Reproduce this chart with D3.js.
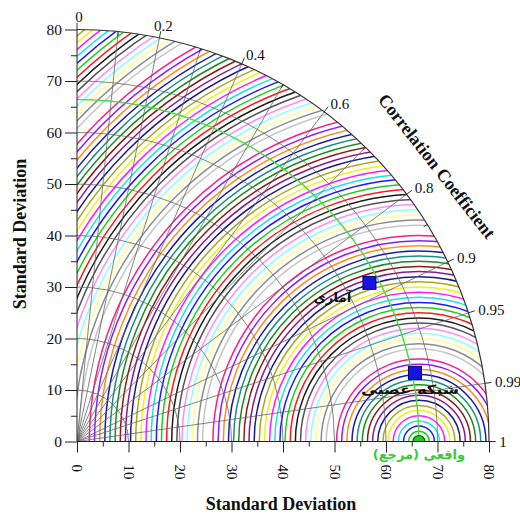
<!DOCTYPE html>
<html>
<head>
<meta charset="utf-8">
<title>Taylor diagram</title>
<script src="https://d3js.org/d3.v7.min.js"></script>
<style>
  body { margin: 0; background: #fff; }
  svg text { font-family: "Liberation Serif", "Times New Roman", serif; fill: #111; }
  .axis path, .axis line { stroke: #222; }
  .fa { font-family: "DejaVu Sans", sans-serif !important; }
</style>
</head>
<body>
<svg id="chart"></svg>
<script>
// data
var stdTicks = [0, 10, 20, 30, 40, 50, 60, 70, 80];
var stdMinor = [5, 15, 25, 35, 45, 55, 65, 75];
var stdGrid = [10, 20, 30, 40, 50, 60, 70];
var corrTicks = [0, 0.2, 0.4, 0.6, 0.8, 0.9, 0.95, 0.99, 1];
var corrMinor = [0.1, 0.3, 0.5, 0.7, 0.85];
var corrGrid = [0.1, 0.2, 0.3, 0.4, 0.5, 0.6, 0.7, 0.8, 0.9, 0.95, 0.99];
var refName = "واقعی (مرجع)";
var refStd = 66.4;
var modelNames = ["آماری", "شبکه عصبی"];
var modelStd = [64.6, 66.96];
var modelCorr = [0.879, 0.98];
var rmsLevels = d3.range(1, 105);
// Origin style colour list
var palette = ["#000000", "#ff0000", "#00cc00", "#0000ff", "#00e0e0", "#ff00ff", "#f0f000", "#a0a000",
               "#000080", "#800080", "#800000", "#008000", "#008080", "#0000a0", "#ff8000", "#8000ff",
               "#ff0080", "#ffffff", "#c0c0c0", "#808080", "#ffff80", "#80ffff", "#ff80ff", "#404040"];

var width = 520, height = 518;
var ox = 77, oy = 441.5;
var maxStd = 80;

var svg = d3.select("#chart")
    .attr("width", width)
    .attr("height", height);

var r = d3.scaleLinear().domain([0, maxStd]).range([0, 412]);
var R = r(maxStd);

function pos(s, c) {
    var a = Math.acos(c);
    return [ox + r(s) * Math.cos(a), oy - r(s) * Math.sin(a)];
}

var quad = "M" + ox + "," + oy + "L" + (ox + R) + "," + oy +
           "A" + R + "," + R + " 0 0 0 " + ox + "," + (oy - R) + "Z";

svg.append("clipPath").attr("id", "quad")
    .append("path").attr("d", quad);

var plot = svg.append("g").attr("clip-path", "url(#quad)");

// RMS contours round the reference
plot.selectAll("circle.rms")
    .data(rmsLevels)
    .enter()
    .append("circle")
    .attr("class", "rms")
    .attr("cx", ox + r(refStd))
    .attr("cy", oy)
    .attr("r", function (d) { return r(d); })
    .attr("fill", "none")
    .attr("stroke", function (d) { return palette[d % 24]; })
    .attr("stroke-width", 1.5)
    .attr("opacity", 0.9);

// std dev grid arcs
plot.selectAll("circle.sgrid")
    .data(stdGrid)
    .enter()
    .append("circle")
    .attr("class", "sgrid")
    .attr("cx", ox)
    .attr("cy", oy)
    .attr("r", function (d) { return r(d); })
    .attr("fill", "none")
    .attr("stroke", "#666")
    .attr("stroke-width", 0.8);

// correlation grid lines
plot.selectAll("line.cgrid")
    .data(corrGrid)
    .enter()
    .append("line")
    .attr("class", "cgrid")
    .attr("x1", ox).attr("y1", oy)
    .attr("x2", function (d) { return pos(maxStd, d)[0]; })
    .attr("y2", function (d) { return pos(maxStd, d)[1]; })
    .attr("stroke", "#666")
    .attr("stroke-width", 0.8);

// reference std arc
plot.append("circle")
    .attr("cx", ox).attr("cy", oy)
    .attr("r", r(refStd))
    .attr("fill", "none")
    .attr("stroke", "#44dd44")
    .attr("stroke-width", 1.4);

// reference marker
plot.append("circle")
    .attr("cx", ox + r(refStd)).attr("cy", oy)
    .attr("r", 6)
    .attr("fill", "#22cc22")
    .attr("stroke", "#006600")
    .attr("stroke-width", 1.2);

// outer arc
svg.append("path")
    .attr("d", "M" + (ox + R) + "," + oy + "A" + R + "," + R + " 0 0 0 " + ox + "," + (oy - R))
    .attr("fill", "none")
    .attr("stroke", "#333")
    .attr("stroke-width", 1.2);

// correlation ticks and labels
svg.selectAll("line.ctick")
    .data(corrTicks)
    .enter()
    .append("line")
    .attr("class", "ctick")
    .attr("x1", function (d) { return pos(maxStd, d)[0]; })
    .attr("y1", function (d) { return pos(maxStd, d)[1]; })
    .attr("x2", function (d) { return pos(maxStd + 1.3, d)[0]; })
    .attr("y2", function (d) { return pos(maxStd + 1.3, d)[1]; })
    .attr("stroke", "#333");

svg.selectAll("line.cminor")
    .data(corrMinor)
    .enter()
    .append("line")
    .attr("class", "cminor")
    .attr("x1", function (d) { return pos(maxStd - 0.8, d)[0]; })
    .attr("y1", function (d) { return pos(maxStd - 0.8, d)[1]; })
    .attr("x2", function (d) { return pos(maxStd, d)[0]; })
    .attr("y2", function (d) { return pos(maxStd, d)[1]; })
    .attr("stroke", "#333");

svg.selectAll("text.clab")
    .data(corrTicks)
    .enter()
    .append("text")
    .attr("class", "clab")
    .attr("x", function (d) {
        var p = pos(maxStd + 2, d);
        return d < 0.3 ? p[0] + 2 : p[0];
    })
    .attr("y", function (d) { return pos(maxStd + (d < 0.3 ? 2.4 : 2), d)[1]; })
    .attr("dy", "0.35em")
    .attr("text-anchor", function (d) { return d < 0.3 ? "middle" : "start"; })
    .style("font-size", "15px")
    .text(function (d) { return d; });

// y axis
var y = d3.scaleLinear().domain([0, maxStd]).range([oy, oy - R]);
svg.append("g")
    .attr("class", "axis")
    .attr("transform", "translate(" + ox + ",0)")
    .call(d3.axisLeft(y).tickValues(stdTicks).tickSize(12).tickPadding(3).tickFormat(d3.format("d")))
    .call(function (g) { g.selectAll("text").style("font-size", "15.5px").attr("fill", "#111"); g.select(".domain").attr("d", "M0," + oy + "V" + (oy - R)); });

svg.append("g")
    .attr("class", "axis")
    .attr("transform", "translate(" + ox + ",0)")
    .call(d3.axisLeft(y).tickValues(stdMinor).tickSize(6).tickFormat(""))
    .call(function (g) { g.select(".domain").remove(); });

// x axis
var x = d3.scaleLinear().domain([0, maxStd]).range([ox, ox + R]);
svg.append("g")
    .attr("class", "axis")
    .attr("transform", "translate(0," + oy + ")")
    .call(d3.axisBottom(x).tickValues(stdTicks).tickSize(11).tickFormat(d3.format("d")))
    .call(function (g) {
        g.select(".domain").attr("d", "M" + ox + ",0H" + (ox + R));
        g.selectAll("text")
            .style("font-size", "15px")
            .attr("fill", "#111")
            .attr("transform", "rotate(90)")
            .attr("x", 23)
            .attr("y", 0)
            .attr("dy", "0.35em")
            .style("text-anchor", "start");
    });

svg.append("g")
    .attr("class", "axis")
    .attr("transform", "translate(0," + oy + ")")
    .call(d3.axisBottom(x).tickValues(stdMinor).tickSize(5).tickFormat(""))
    .call(function (g) { g.select(".domain").remove(); });

// model points
svg.selectAll("rect.model")
    .data(modelNames)
    .enter()
    .append("rect")
    .attr("class", "model")
    .attr("x", function (d, i) { return pos(modelStd[i], modelCorr[i])[0] - 6.5; })
    .attr("y", function (d, i) { return pos(modelStd[i], modelCorr[i])[1] - 6.5; })
    .attr("width", 13)
    .attr("height", 13)
    .attr("fill", "#1515dd")
    .attr("stroke", "#000080");

var labelOff = [[-37, 15], [-5, 17]];
var labelLen = [38, 98];
svg.selectAll("text.mlab")
    .data(modelNames)
    .enter()
    .append("text")
    .attr("class", "mlab fa")
    .attr("x", function (d, i) { return pos(modelStd[i], modelCorr[i])[0] + labelOff[i][0]; })
    .attr("y", function (d, i) { return pos(modelStd[i], modelCorr[i])[1] + labelOff[i][1]; })
    .attr("dy", "0.35em")
    .attr("text-anchor", "middle")
    .attr("textLength", function (d, i) { return labelLen[i]; })
    .attr("lengthAdjust", "spacingAndGlyphs")
    .style("font-size", "13px")
    .style("font-weight", "bold")
    .attr("fill", "#222")
    .text(function (d) { return d; });

svg.append("text")
    .attr("class", "fa")
    .attr("x", ox + r(refStd))
    .attr("y", oy + 13)
    .attr("dy", "0.35em")
    .attr("text-anchor", "middle")
    .style("font-size", "13px")
    .style("font-weight", "bold")
    .style("fill", "#33cc33")
    .text(refName);

// titles
svg.append("text")
    .attr("x", ox + R / 2 - 2)
    .attr("y", 510)
    .attr("text-anchor", "middle")
    .style("font-size", "18px")
    .style("font-weight", "bold")
    .text("Standard Deviation");

svg.append("text")
    .attr("transform", "translate(26," + 234 + ") rotate(-90)")
    .attr("text-anchor", "middle")
    .style("font-size", "18px")
    .style("font-weight", "bold")
    .text("Standard Deviation");

svg.append("text")
    .attr("transform", "translate(437,166) rotate(52)")
    .attr("text-anchor", "middle")
    .attr("dy", "0.35em")
    .style("font-size", "18px")
    .style("font-weight", "bold")
    .text("Correlation Coefficient");
</script>
</body>
</html>
